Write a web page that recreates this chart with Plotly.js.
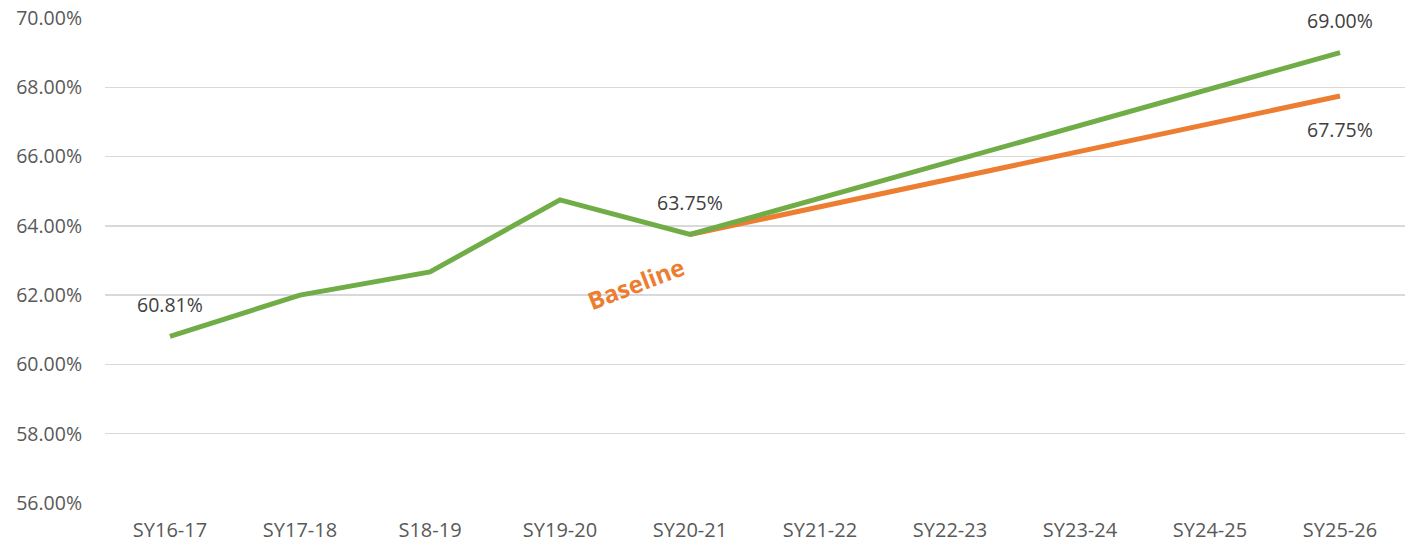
<!DOCTYPE html>
<html>
<head>
<meta charset="utf-8">
<script src="https://cdn.plot.ly/plotly-3.0.1.min.js"></script>
<style>html,body{margin:0;padding:0;background:#fff;}#chart{width:1413px;height:546px;}</style>
</head>
<body>
<div id="chart"></div>
<script>
const categories = ["SY16-17","SY17-18","S18-19","SY19-20","SY20-21","SY21-22","SY22-23","SY23-24","SY24-25","SY25-26"];
const targetValues = [60.81, 62.0, 62.67, 64.75, 63.75, 64.8, 65.85, 66.9, 67.95, 69.0];
const baselineValues = [null, null, null, null, 63.75, 64.55, 65.35, 66.15, 66.95, 67.75];
const yTicks = [56, 58, 60, 62, 64, 66, 68, 70];
const yTickLabels = ["56.00%","58.00%","60.00%","62.00%","64.00%","66.00%","68.00%","70.00%"];

const FONT = "Open Sans, Noto Sans, sans-serif";
const GREEN = "#70AD47", ORANGE = "#ED7D31";

const traces = [
  {x: categories, y: baselineValues, type: "scatter", mode: "lines",
   line: {color: ORANGE, width: 5}, connectgaps: false, hoverinfo: "skip"},
  {x: categories, y: targetValues, type: "scatter", mode: "lines",
   line: {color: GREEN, width: 5}, hoverinfo: "skip"}
];

function lbl(i, arr, yshift) {
  return {x: categories[i], y: arr[i], xref: "x", yref: "y", text: arr[i].toFixed(2) + "%",
    showarrow: false, yshift: yshift, font: {family: FONT, size: 19.5, color: "#404040"}};
}

const annotations = [
  lbl(0, targetValues, 32),
  lbl(4, targetValues, 32),
  lbl(9, targetValues, 32),
  lbl(9, baselineValues, -34),
  {x: 3.58, y: 62.35, xref: "x", yref: "y", text: "<b>Baseline</b>", showarrow: false,
   textangle: -21, font: {family: FONT, size: 24, color: ORANGE}}
];

const layout = {
  width: 1413, height: 546,
  margin: {l: 105, r: 8, t: 18, b: 43},
  paper_bgcolor: "#fff", plot_bgcolor: "#fff",
  showlegend: false,
  xaxis: {type: "category", range: [-0.5, 9.5], showgrid: false, zeroline: false,
    showline: false, ticks: "", ticklabelstandoff: 13,
    tickfont: {family: FONT, size: 20, color: "#595959"}, fixedrange: true},
  yaxis: {range: [56, 70], tickvals: yTicks, ticktext: yTickLabels, showgrid: true,
    gridcolor: "#d9d9d9", gridwidth: 1.3, zeroline: false, showline: false, ticks: "",
    ticklabelstandoff: 22,
    tickfont: {family: FONT, size: 19.5, color: "#595959"}, fixedrange: true},
  annotations: annotations
};

Plotly.newPlot("chart", traces, layout, {displayModeBar: false, staticPlot: true});
</script>
</body>
</html>
